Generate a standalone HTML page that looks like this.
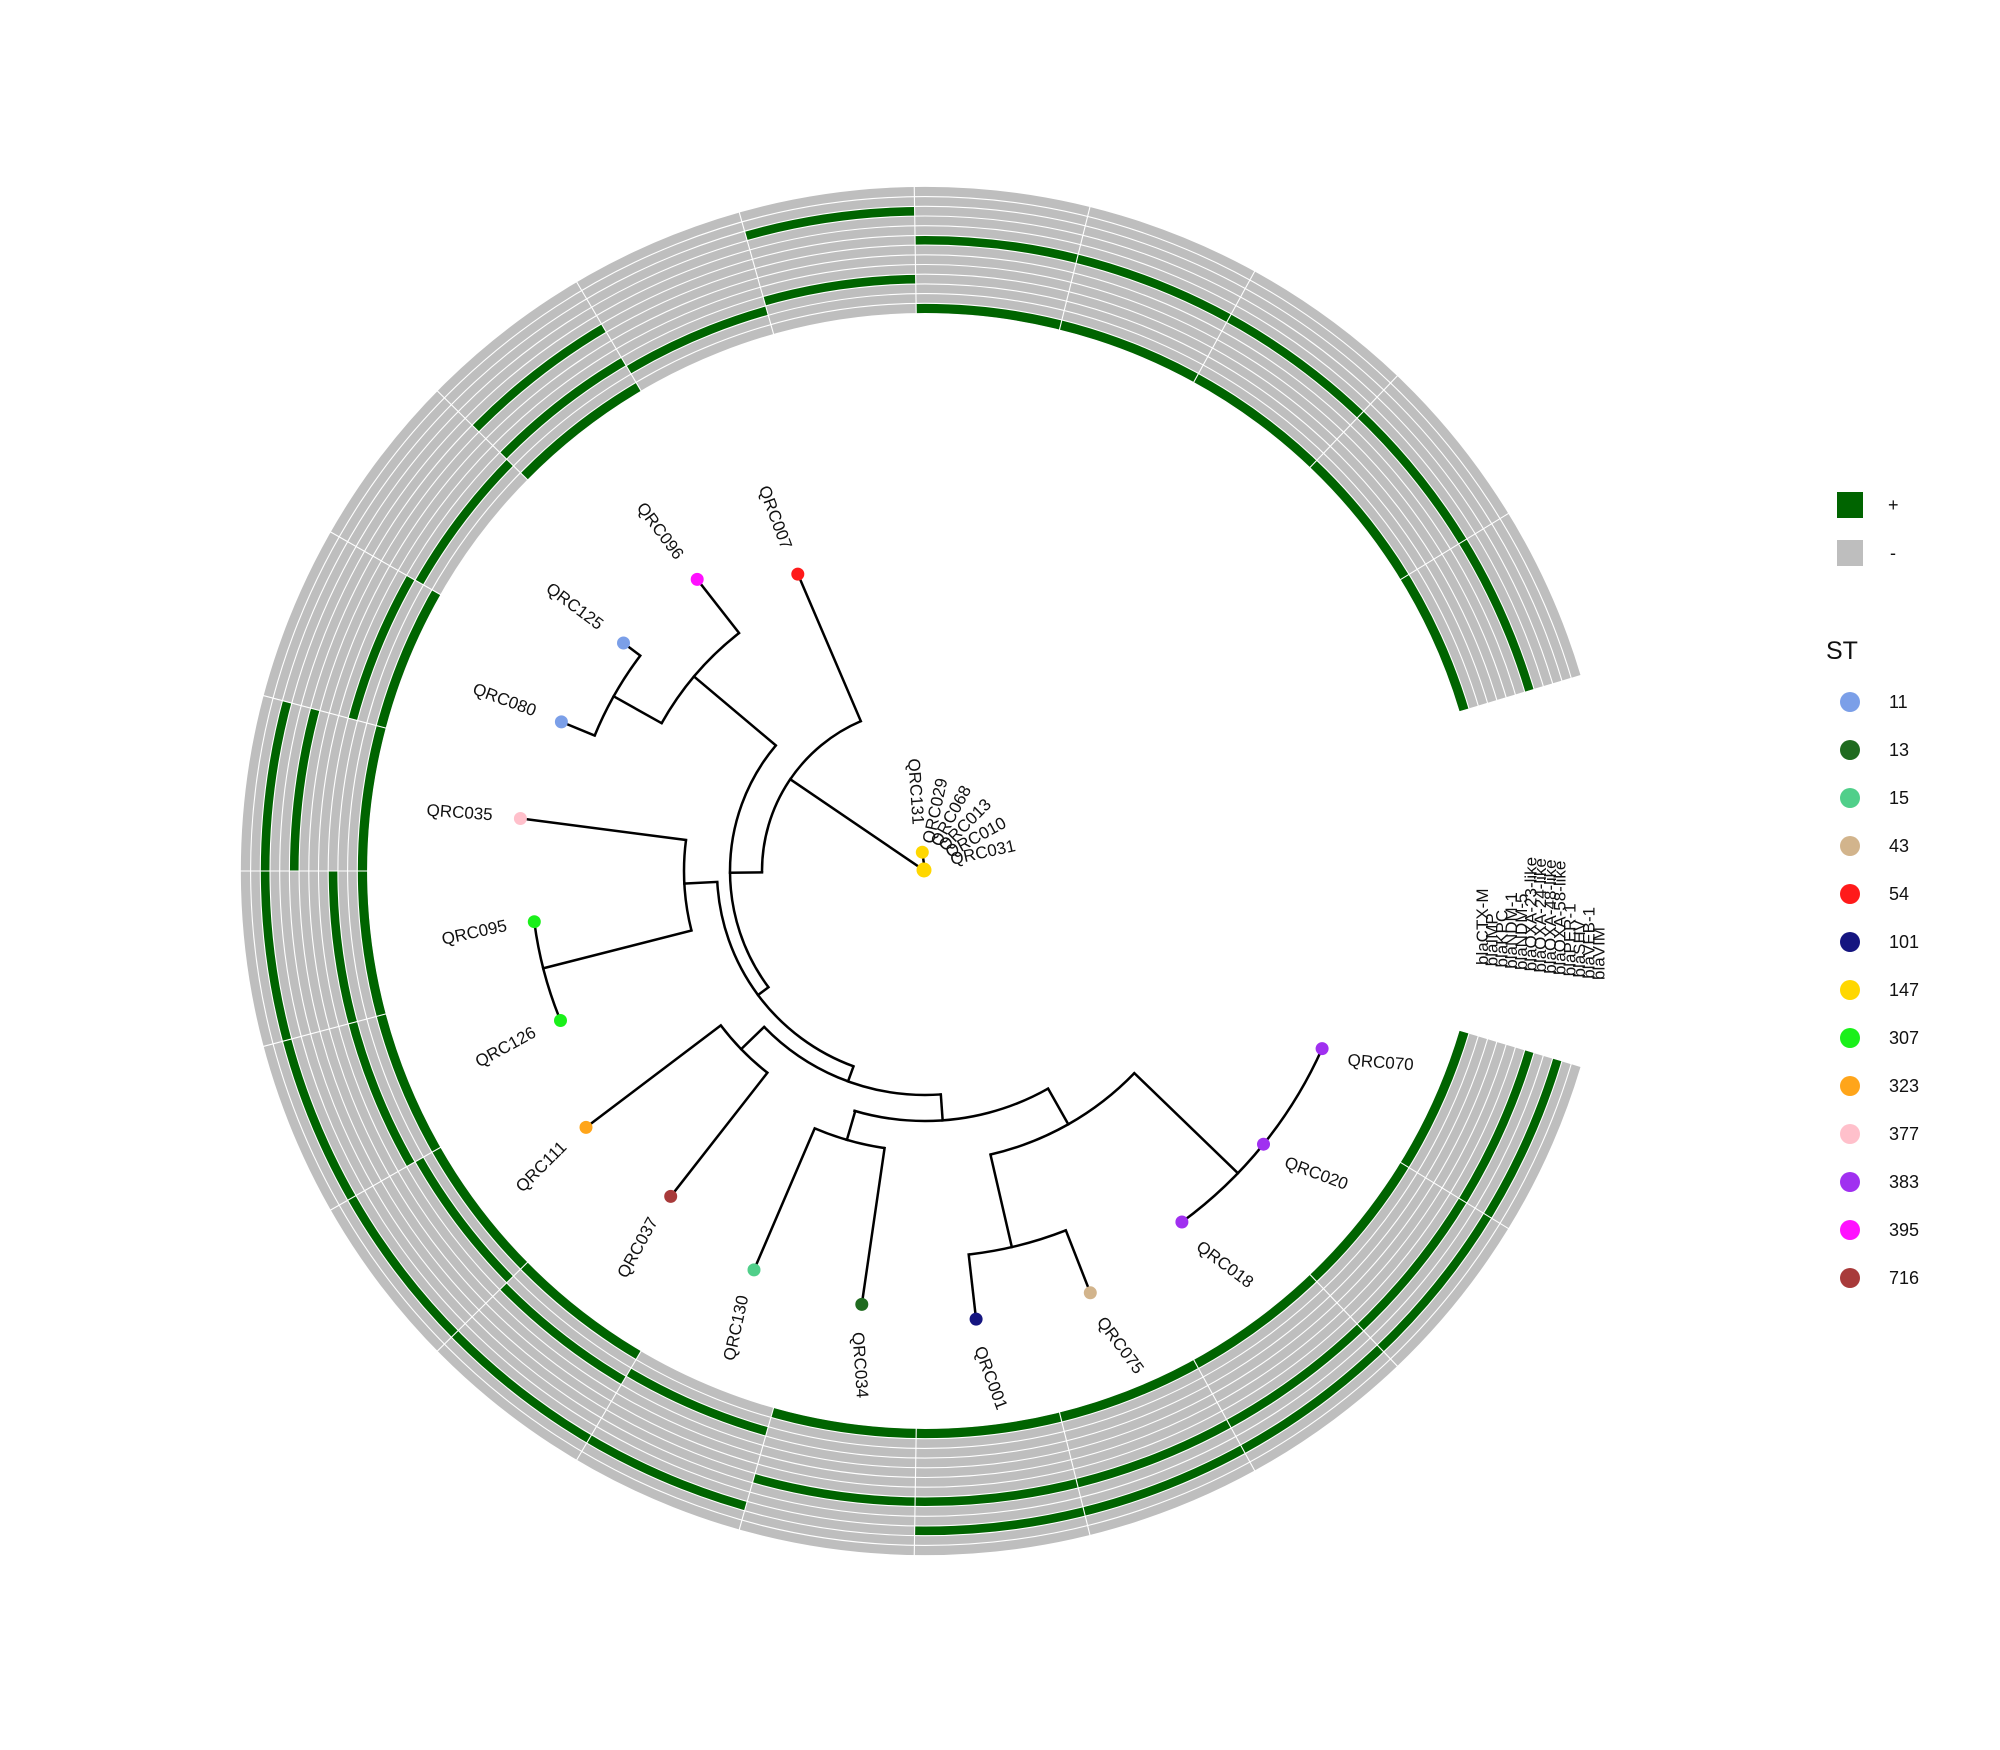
<!DOCTYPE html>
<html><head><meta charset="utf-8"><style>
html,body{margin:0;padding:0;background:#fff;}
svg{display:block;font-family:"Liberation Sans",Arial,sans-serif;}
</style></head><body>
<svg width="2000" height="1750" viewBox="0 0 2000 1750" xmlns="http://www.w3.org/2000/svg">
<rect width="2000" height="1750" fill="#fff"/>
<g transform="translate(925,871)">
  <g fill="none" stroke="#BEBEBE" stroke-width="9.8">
    <circle r="562.85" pathLength="360" stroke-dasharray="326.7 33.3" stroke-dashoffset="-16.65"/>
    <circle r="572.55" pathLength="360" stroke-dasharray="326.7 33.3" stroke-dashoffset="-16.65"/>
    <circle r="582.25" pathLength="360" stroke-dasharray="326.7 33.3" stroke-dashoffset="-16.65"/>
    <circle r="591.95" pathLength="360" stroke-dasharray="326.7 33.3" stroke-dashoffset="-16.65"/>
    <circle r="601.65" pathLength="360" stroke-dasharray="326.7 33.3" stroke-dashoffset="-16.65"/>
    <circle r="611.35" pathLength="360" stroke-dasharray="326.7 33.3" stroke-dashoffset="-16.65"/>
    <circle r="621.05" pathLength="360" stroke-dasharray="326.7 33.3" stroke-dashoffset="-16.65"/>
    <circle r="630.75" pathLength="360" stroke-dasharray="326.7 33.3" stroke-dashoffset="-16.65"/>
    <circle r="640.45" pathLength="360" stroke-dasharray="326.7 33.3" stroke-dashoffset="-16.65"/>
    <circle r="650.15" pathLength="360" stroke-dasharray="326.7 33.3" stroke-dashoffset="-16.65"/>
    <circle r="659.85" pathLength="360" stroke-dasharray="326.7 33.3" stroke-dashoffset="-16.65"/>
    <circle r="669.55" pathLength="360" stroke-dasharray="326.7 33.3" stroke-dashoffset="-16.65"/>
    <circle r="679.25" pathLength="360" stroke-dasharray="326.7 33.3" stroke-dashoffset="-16.65"/>
  </g>
  <g fill="none" stroke="#006400" stroke-width="9.8">
    <circle r="562.85" pathLength="360" stroke-dasharray="74.25 285.75" stroke-dashoffset="-269.1"/>
    <circle r="562.85" pathLength="360" stroke-dasharray="14.85 345.15" stroke-dashoffset="-224.55"/>
    <circle r="562.85" pathLength="360" stroke-dasharray="89.1 270.9" stroke-dashoffset="-120.6"/>
    <circle r="562.85" pathLength="360" stroke-dasharray="89.1 270.9" stroke-dashoffset="-16.65"/>
    <circle r="582.25" pathLength="360" stroke-dasharray="14.85 345.15" stroke-dashoffset="-239.4"/>
    <circle r="582.25" pathLength="360" stroke-dasharray="14.85 345.15" stroke-dashoffset="-209.7"/>
    <circle r="582.25" pathLength="360" stroke-dasharray="14.85 345.15" stroke-dashoffset="-135.45"/>
    <circle r="582.25" pathLength="360" stroke-dasharray="14.85 345.15" stroke-dashoffset="-105.75"/>
    <circle r="591.95" pathLength="360" stroke-dasharray="14.85 345.15" stroke-dashoffset="-254.25"/>
    <circle r="591.95" pathLength="360" stroke-dasharray="14.85 345.15" stroke-dashoffset="-224.55"/>
    <circle r="591.95" pathLength="360" stroke-dasharray="14.85 345.15" stroke-dashoffset="-194.85"/>
    <circle r="591.95" pathLength="360" stroke-dasharray="29.7 330.3" stroke-dashoffset="-150.3"/>
    <circle r="591.95" pathLength="360" stroke-dasharray="14.85 345.15" stroke-dashoffset="-120.6"/>
    <circle r="630.75" pathLength="360" stroke-dasharray="74.25 285.75" stroke-dashoffset="-269.1"/>
    <circle r="630.75" pathLength="360" stroke-dasharray="14.85 345.15" stroke-dashoffset="-224.55"/>
    <circle r="630.75" pathLength="360" stroke-dasharray="14.85 345.15" stroke-dashoffset="-180"/>
    <circle r="630.75" pathLength="360" stroke-dasharray="89.1 270.9" stroke-dashoffset="-16.65"/>
    <circle r="659.85" pathLength="360" stroke-dasharray="14.85 345.15" stroke-dashoffset="-254.25"/>
    <circle r="659.85" pathLength="360" stroke-dasharray="89.1 270.9" stroke-dashoffset="-105.75"/>
    <circle r="659.85" pathLength="360" stroke-dasharray="74.25 285.75" stroke-dashoffset="-16.65"/>
  </g>
  <g fill="none" stroke="#fff" stroke-width="1.1">
    <circle r="567.7"/><circle r="577.4"/><circle r="587.1"/><circle r="596.8"/><circle r="606.5"/><circle r="616.2"/><circle r="625.9"/><circle r="635.6"/><circle r="645.3"/><circle r="655"/><circle r="664.7"/><circle r="674.4"/>
  </g>
  <g stroke="#fff" stroke-width="1.1">
    <line x1="557" x2="686" transform="rotate(-31.5)"/><line x1="557" x2="686" transform="rotate(-46.35)"/><line x1="557" x2="686" transform="rotate(-61.2)"/><line x1="557" x2="686" transform="rotate(-76.05)"/><line x1="557" x2="686" transform="rotate(-90.9)"/><line x1="557" x2="686" transform="rotate(-105.75)"/><line x1="557" x2="686" transform="rotate(-120.6)"/><line x1="557" x2="686" transform="rotate(-135.45)"/><line x1="557" x2="686" transform="rotate(-150.3)"/><line x1="557" x2="686" transform="rotate(-165.15)"/><line x1="557" x2="686" transform="rotate(-180)"/><line x1="557" x2="686" transform="rotate(-194.85)"/><line x1="557" x2="686" transform="rotate(-209.7)"/><line x1="557" x2="686" transform="rotate(-224.55)"/><line x1="557" x2="686" transform="rotate(-239.4)"/><line x1="557" x2="686" transform="rotate(-254.25)"/><line x1="557" x2="686" transform="rotate(-269.1)"/><line x1="557" x2="686" transform="rotate(-283.95)"/><line x1="557" x2="686" transform="rotate(-298.8)"/><line x1="557" x2="686" transform="rotate(-313.65)"/><line x1="557" x2="686" transform="rotate(-328.5)"/>
  </g>

  <g fill="none" stroke="#000" stroke-width="2.5">
    <circle r="163" pathLength="360" stroke-dasharray="67.32 292.68" stroke-dashoffset="-179.5"/>
    <circle r="195" pathLength="360" stroke-dasharray="76.7 283.3" stroke-dashoffset="-143.4"/>
    <circle r="302" pathLength="360" stroke-dasharray="22.7 337.3" stroke-dashoffset="-209.3"/>
    <circle r="357" pathLength="360" stroke-dasharray="14.85 345.15" stroke-dashoffset="-202.3"/>
    <circle r="208" pathLength="360" stroke-dasharray="66.9 293.1" stroke-dashoffset="-110.1"/>
    <circle r="241" pathLength="360" stroke-dasharray="21.7 338.3" stroke-dashoffset="-165.7"/>
    <circle r="394" pathLength="360" stroke-dasharray="14.85 345.15" stroke-dashoffset="-157.7"/>
    <circle r="224" pathLength="360" stroke-dasharray="49.95 310.05" stroke-dashoffset="-85.95"/>
    <circle r="256" pathLength="360" stroke-dasharray="14.85 345.15" stroke-dashoffset="-128"/>
    <circle r="250" pathLength="360" stroke-dasharray="46.2 313.8" stroke-dashoffset="-60.5"/>
    <circle r="280" pathLength="360" stroke-dasharray="14.85 345.15" stroke-dashoffset="-98.3"/>
    <circle r="291" pathLength="360" stroke-dasharray="33 327" stroke-dashoffset="-44"/>
    <circle r="386" pathLength="360" stroke-dasharray="14.85 345.15" stroke-dashoffset="-68.6"/>
    <circle r="435" pathLength="360" stroke-dasharray="29.7 330.3" stroke-dashoffset="-24.1"/>
  </g>
  <g stroke="#000" stroke-width="2.5" stroke-linecap="square">
    <line x1="163" x2="323" transform="rotate(-113.18)"/>
    <line x1="0" x2="163" transform="rotate(-145.75)"/>
    <line x1="163" x2="195" transform="rotate(-180.5)"/>
    <line x1="195" x2="302" transform="rotate(-139.9)"/>
    <line x1="302" x2="370" transform="rotate(-128)"/>
    <line x1="302" x2="357" transform="rotate(-150.7)"/>
    <line x1="357" x2="378" transform="rotate(-142.9)"/>
    <line x1="357" x2="393" transform="rotate(-157.7)"/>
    <line x1="195" x2="208" transform="rotate(-216.6)"/>
    <line x1="208" x2="241" transform="rotate(-183)"/>
    <line x1="241" x2="408" transform="rotate(-172.6)"/>
    <line x1="241" x2="394" transform="rotate(-194.3)"/>
    <line x1="208" x2="224" transform="rotate(-249.9)"/>
    <line x1="224" x2="256" transform="rotate(-224.1)"/>
    <line x1="256" x2="425" transform="rotate(-217.1)"/>
    <line x1="256" x2="413" transform="rotate(-232)"/>
    <line x1="224" x2="250" transform="rotate(-274.05)"/>
    <line x1="250" x2="280" transform="rotate(-253.8)"/>
    <line x1="280" x2="434" transform="rotate(-246.8)"/>
    <line x1="280" x2="438" transform="rotate(-261.7)"/>
    <line x1="250" x2="291" transform="rotate(-299.5)"/>
    <line x1="291" x2="386" transform="rotate(-283)"/>
    <line x1="386" x2="451" transform="rotate(-276.5)"/>
    <line x1="386" x2="453" transform="rotate(-291.4)"/>
    <line x1="291" x2="435" transform="rotate(-316)"/>
    <line x1="0" x2="19" transform="rotate(-98.3)"/>
  </g>
  <g>
    <circle cx="-127.2" cy="-296.9" r="6.5" fill="#FF1A1A"/>
    <circle cx="-227.8" cy="-291.6" r="6.5" fill="#FF10FF"/>
    <circle cx="-301.5" cy="-228.0" r="6.5" fill="#7B9FE8"/>
    <circle cx="-363.6" cy="-149.1" r="6.5" fill="#7B9FE8"/>
    <circle cx="-404.6" cy="-52.5" r="6.5" fill="#FFC0CB"/>
    <circle cx="-390.7" cy="50.7" r="6.5" fill="#1AF01A"/>
    <circle cx="-364.5" cy="149.5" r="6.5" fill="#1AF01A"/>
    <circle cx="-339.0" cy="256.4" r="6.5" fill="#FFA51A"/>
    <circle cx="-254.3" cy="325.4" r="6.5" fill="#A83A3A"/>
    <circle cx="-171.0" cy="398.9" r="6.5" fill="#50CF8A"/>
    <circle cx="-63.2" cy="433.4" r="6.5" fill="#1F6B1F"/>
    <circle cx="51.1" cy="448.1" r="6.5" fill="#151580"/>
    <circle cx="165.3" cy="421.8" r="6.5" fill="#D2B48C"/>
    <circle cx="256.9" cy="351.0" r="6.5" fill="#A030F0"/>
    <circle cx="338.5" cy="273.2" r="6.5" fill="#A030F0"/>
    <circle cx="397.1" cy="177.6" r="6.5" fill="#A030F0"/>
    <circle cx="-2.7" cy="-18.8" r="6.5" fill="#FFD700"/>
    <circle cx="-1" cy="-1" r="7.5" fill="#FFD700"/>
  </g>
  <g font-size="17" fill="#111" dominant-baseline="central">
    <text transform="rotate(-113.18) translate(351,0) rotate(2.68) rotate(180)" text-anchor="end">QRC007</text>
    <text transform="rotate(-128) translate(398,0) rotate(1.2) rotate(180)" text-anchor="end">QRC096</text>
    <text transform="rotate(-142.9) translate(406,0) rotate(-0.3) rotate(180)" text-anchor="end">QRC125</text>
    <text transform="rotate(-157.7) translate(421,0) rotate(-1.9) rotate(180)" text-anchor="end">QRC080</text>
    <text transform="rotate(-172.6) translate(436,0) rotate(-3.3) rotate(180)" text-anchor="end">QRC035</text>
    <text transform="rotate(-187.4) translate(422,0) rotate(-4.9) rotate(180)" text-anchor="end">QRC095</text>
    <text transform="rotate(-202.3) translate(422,0) rotate(-6.4) rotate(180)" text-anchor="end">QRC126</text>
    <text transform="rotate(-217.1) translate(453,0) rotate(-7.9) rotate(180)" text-anchor="end">QRC111</text>
    <text transform="rotate(-232) translate(441,0) rotate(-9.4) rotate(180)" text-anchor="end">QRC037</text>
    <text transform="rotate(-246.8) translate(462,0) rotate(-11) rotate(180)" text-anchor="end">QRC130</text>
    <text transform="rotate(-261.7) translate(466,0) rotate(-12.4)">QRC034</text>
    <text transform="rotate(-276.5) translate(479,0) rotate(-14)">QRC001</text>
    <text transform="rotate(-291.4) translate(481,0) rotate(-15.4)">QRC075</text>
    <text transform="rotate(-306.2) translate(463,0) rotate(-17)">QRC018</text>
    <text transform="rotate(-321.1) translate(463,0) rotate(-18.5)">QRC020</text>
    <text transform="rotate(-335.9) translate(463,0) rotate(-20)">QRC070</text>
    <text transform="rotate(-98.3) translate(47,0) rotate(4.2) rotate(180)" text-anchor="end">QRC131</text>
    <text transform="rotate(-83.5) translate(28,0) rotate(5.7)">QRC029</text>
    <text transform="rotate(-68.6) translate(28,0) rotate(7.2)">QRC068</text>
    <text transform="rotate(-53.8) translate(28,0) rotate(8.8)">QRC013</text>
    <text transform="rotate(-38.9) translate(28,0) rotate(10.2)">QRC010</text>
    <text transform="rotate(-24.1) translate(28,0) rotate(11.8)">QRC031</text>
  </g>
</g>

<g font-size="17" fill="#111">
  <text transform="translate(1488,965) rotate(-90)">blaCTX-M</text>
  <text transform="translate(1497.7,966.2) rotate(-90)">blaIMP</text>
  <text transform="translate(1507.4,967.5) rotate(-90)">blaKPC</text>
  <text transform="translate(1517.1,968.7) rotate(-90)">blaNDM-1</text>
  <text transform="translate(1526.8,970) rotate(-90)">blaNDM-5</text>
  <text transform="translate(1536.5,971.2) rotate(-90)">blaOXA-23-like</text>
  <text transform="translate(1546.2,972.5) rotate(-90)">blaOXA-24-like</text>
  <text transform="translate(1555.9,973.7) rotate(-90)">blaOXA-48-like</text>
  <text transform="translate(1565.6,975) rotate(-90)">blaOXA-58-like</text>
  <text transform="translate(1575.3,976.2) rotate(-90)">blaPER-1</text>
  <text transform="translate(1585,977.5) rotate(-90)">blaSHV</text>
  <text transform="translate(1594.7,978.7) rotate(-90)">blaVEB-1</text>
  <text transform="translate(1604.4,980) rotate(-90)">blaVIM</text>
</g>

<rect x="1837" y="492" width="26" height="26" fill="#006400"/>
<text x="1888" y="511" font-size="18" fill="#111">+</text>
<rect x="1837" y="540" width="26" height="26" fill="#BEBEBE"/>
<text x="1890" y="559" font-size="18" fill="#111">-</text>

<text x="1826" y="659" font-size="25" fill="#111">ST</text>
<g font-size="18" fill="#111">
  <circle cx="1850" cy="702" r="10" fill="#7B9FE8"/><text x="1889" y="708">11</text>
  <circle cx="1850" cy="750" r="10" fill="#1F6B1F"/><text x="1889" y="756">13</text>
  <circle cx="1850" cy="798" r="10" fill="#50CF8A"/><text x="1889" y="804">15</text>
  <circle cx="1850" cy="846" r="10" fill="#D2B48C"/><text x="1889" y="852">43</text>
  <circle cx="1850" cy="894" r="10" fill="#FF1A1A"/><text x="1889" y="900">54</text>
  <circle cx="1850" cy="942" r="10" fill="#151580"/><text x="1889" y="948">101</text>
  <circle cx="1850" cy="990" r="10" fill="#FFD700"/><text x="1889" y="996">147</text>
  <circle cx="1850" cy="1038" r="10" fill="#1AF01A"/><text x="1889" y="1044">307</text>
  <circle cx="1850" cy="1086" r="10" fill="#FFA51A"/><text x="1889" y="1092">323</text>
  <circle cx="1850" cy="1134" r="10" fill="#FFC0CB"/><text x="1889" y="1140">377</text>
  <circle cx="1850" cy="1182" r="10" fill="#A030F0"/><text x="1889" y="1188">383</text>
  <circle cx="1850" cy="1230" r="10" fill="#FF10FF"/><text x="1889" y="1236">395</text>
  <circle cx="1850" cy="1278" r="10" fill="#A83A3A"/><text x="1889" y="1284">716</text>
</g>
</svg>
</body></html>
